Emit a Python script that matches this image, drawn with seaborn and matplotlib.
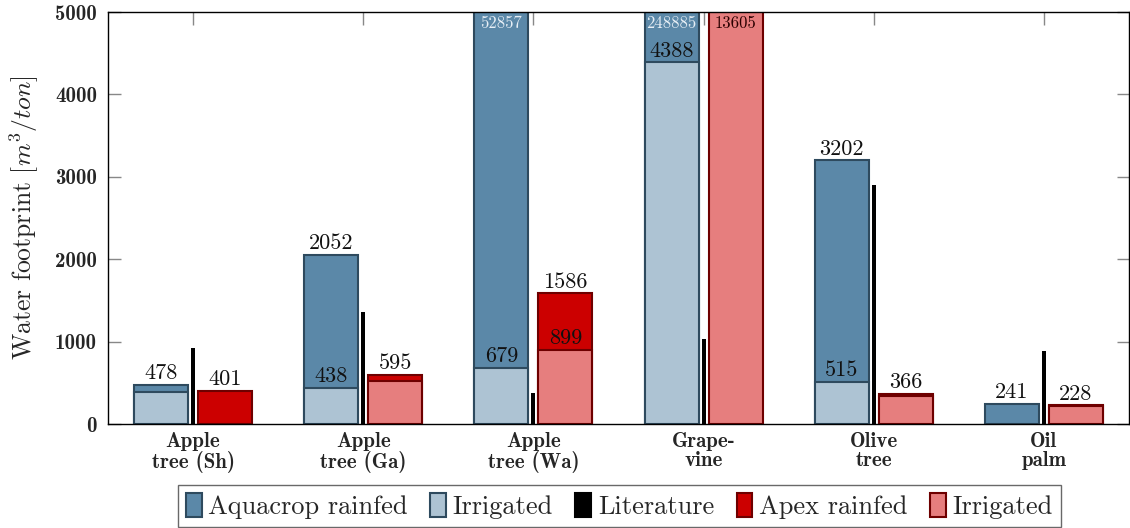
import numpy as np
import pandas as pd
import matplotlib
matplotlib.use("Agg")
import matplotlib.pyplot as plt
from matplotlib.patches import Patch
import seaborn as sns

# ---------------- data ----------------
categories = ["Apple\ntree (Sh)", "Apple\ntree (Ga)", "Apple\ntree (Wa)",
              "Grape-\nvine", "Olive\ntree", "Oil\npalm"]
aquacrop_rainfed = [478, 2052, 52857, 248885, 3202, 241]
aquacrop_irrigated = [385, 438, 679, 4388, 515, np.nan]
literature = [920, 1360, 380, 1030, 2900, 880]
apex_rainfed = [401, 595, 1586, np.nan, 366, 228]
apex_irrigated = [np.nan, 520, 899, 13605, 340, 222]
legend_labels = ["Aquacrop rainfed", "Irrigated", "Literature", "Apex rainfed", "Irrigated"]

# ---------------- style ----------------
sns.set_style("white")
plt.rcParams["font.family"] = ["cmr10", "DejaVu Serif"]
plt.rcParams["mathtext.fontset"] = "cm"
plt.rcParams["axes.formatter.use_mathtext"] = True
plt.rcParams["axes.unicode_minus"] = False

C_AQ_R = "#5b88a8"
C_AQ_I = "#adc3d3"
E_AQ = "#2e4a5e"
C_AP_R = "#cc0000"
C_AP_I = "#e67e7e"
E_AP = "#6e0000"

YMAX = 5000
BW = 0.317
OFF = 0.188
LW_W = 0.024

fig = plt.figure(figsize=(11.3, 5.28), dpi=100)
ax = fig.add_axes([108 / 1130, 1 - 424 / 528, 1021 / 1130, 412 / 528])

idx = np.arange(len(categories))


def draw(values, offset, width, face, edge, lw):
    df = pd.DataFrame({"x": idx + offset, "y": values}).dropna()
    sns.barplot(data=df, x="x", y="y", native_scale=True, width=width,
                color=face, edgecolor=edge, linewidth=lw, saturation=1,
                errorbar=None, ax=ax, orient="v")


draw(aquacrop_rainfed, -OFF, BW, C_AQ_R, E_AQ, 1.5)
draw(aquacrop_irrigated, -OFF, BW, C_AQ_I, E_AQ, 1.5)
draw(literature, 0.0, LW_W, "black", "black", 0)
draw(apex_rainfed, OFF, BW, C_AP_R, E_AP, 1.5)
draw(apex_irrigated, OFF, BW, C_AP_I, E_AP, 1.5)

# ---------------- value labels ----------------
num_fs = 16


def label_pair(rain, irr, offset, clip_color):
    for i in idx:
        r, w = rain[i], irr[i]
        x = i + offset
        if not np.isnan(r) and (np.isnan(w) or r >= w):
            topval = r
        else:
            topval = w
        if topval > YMAX:
            ax.text(x, YMAX - 40, f"{int(topval)}", ha="center", va="top",
                    fontsize=12, color=clip_color)
        else:
            ax.text(x, topval + 20, f"{int(topval)}", ha="center", va="bottom",
                    fontsize=num_fs, color="#111111")
        if not np.isnan(r) and not np.isnan(w) and r - w > 150 and w < YMAX:
            ax.text(x, w + 20, f"{int(w)}", ha="center", va="bottom",
                    fontsize=num_fs, color="#111111")


label_pair(aquacrop_rainfed, aquacrop_irrigated, -OFF, "#e6eef5")
label_pair(apex_rainfed, apex_irrigated, OFF, "#2a0000")

# ---------------- axes ----------------
ax.set_xlim(-0.5, 5.5)
ax.set_ylim(0, YMAX)
ax.set_xticks(idx)
ax.set_xticklabels(categories, family="cmb10", fontsize=15, linespacing=1.0)
ax.set_yticks(np.arange(0, YMAX + 1, 1000))
ax.set_yticklabels([str(v) for v in range(0, YMAX + 1, 1000)], family="cmb10", fontsize=15)
ax.tick_params(axis="both", direction="in", length=9, width=1.0, color="#888888",
               top=True, right=True, bottom=True, left=True)
ax.tick_params(axis="y", pad=8)
ax.tick_params(axis="x", pad=6)
ax.set_xlabel("")
ax.set_ylabel(r"Water footprint [$m^3/ton$]", fontsize=18.5)
ax.yaxis.set_label_coords(-0.066, 0.5)
for s in ax.spines.values():
    s.set_color("black")
    s.set_linewidth(1.0)
ax.grid(False)

# ---------------- legend ----------------
handles = [
    Patch(facecolor=C_AQ_R, edgecolor=E_AQ, linewidth=1.5),
    Patch(facecolor=C_AQ_I, edgecolor=E_AQ, linewidth=1.5),
    Patch(facecolor="black", edgecolor="black", linewidth=1.5),
    Patch(facecolor=C_AP_R, edgecolor=E_AP, linewidth=1.5),
    Patch(facecolor=C_AP_I, edgecolor=E_AP, linewidth=1.5),
]
leg = fig.legend(handles, legend_labels, loc="upper center",
                 bbox_to_anchor=(0.548, 1 - 485 / 528), ncol=5, fontsize=19,
                 frameon=True, fancybox=False, edgecolor="#444444",
                 handlelength=0.6, handleheight=1.0, handletextpad=0.25,
                 columnspacing=0.85, borderpad=0.3, borderaxespad=0)
leg.get_frame().set_linewidth(1.0)

fig.savefig("out.png", dpi=100)
